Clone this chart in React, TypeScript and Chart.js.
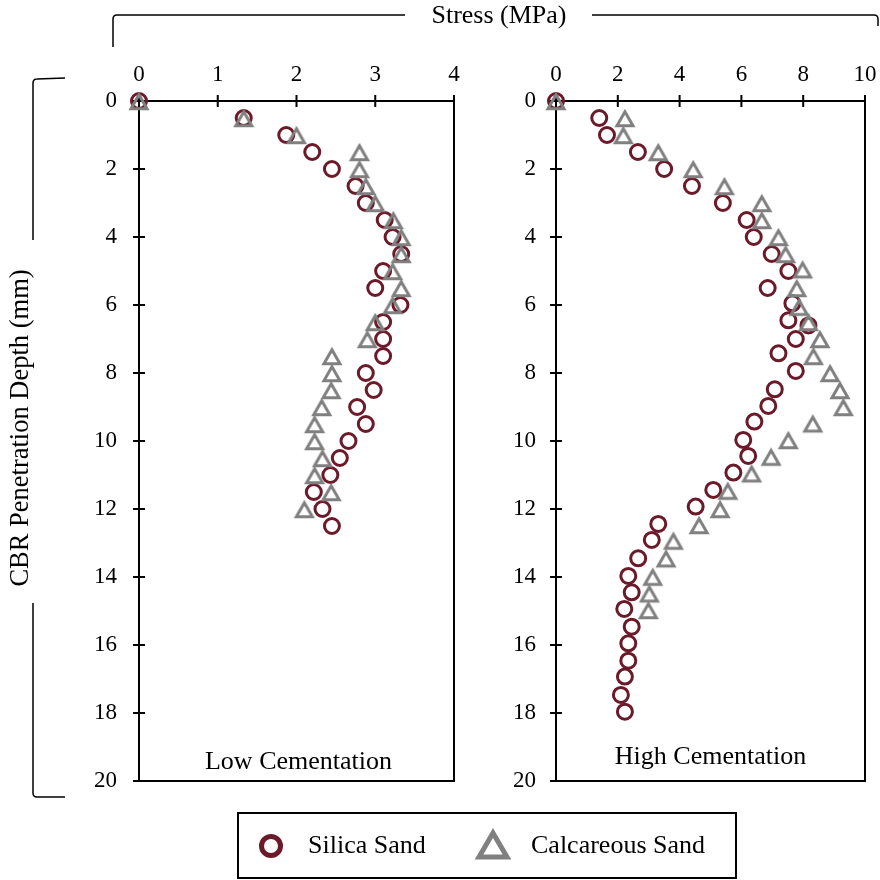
import React, { useEffect, useRef } from 'react';
import { Chart, registerables } from 'chart.js';

Chart.register(...registerables);

// ---------- data ----------
const lowSilicaDepth = [0, 0.5, 1, 1.5, 2, 2.5, 3, 3.5, 4, 4.5, 5, 5.5, 6, 6.5, 7, 7.5, 8, 8.5, 9, 9.5, 10, 10.5, 11, 11.5, 12, 12.5];
const lowSilicaStress = [0, 1.33, 1.87, 2.2, 2.45, 2.75, 2.88, 3.12, 3.22, 3.33, 3.1, 3.0, 3.32, 3.1, 3.1, 3.1, 2.88, 2.98, 2.77, 2.88, 2.66, 2.55, 2.43, 2.22, 2.33, 2.45];

const lowCalcDepth = [0, 0.5, 1, 1.5, 2, 2.5, 3, 3.5, 4, 4.5, 5, 5.5, 6, 6.5, 7, 7.5, 8, 8.5, 9, 9.5, 10, 10.5, 11, 11.5, 12];
const lowCalcStress = [0, 1.33, 2.0, 2.8, 2.8, 2.88, 3.0, 3.23, 3.33, 3.33, 3.22, 3.33, 3.22, 3.0, 2.9, 2.45, 2.45, 2.44, 2.32, 2.23, 2.23, 2.33, 2.23, 2.44, 2.1];

const highSilicaDepth = [0, 0.5, 1.0, 1.5, 2.0, 2.5, 3.0, 3.5, 4.0, 4.5, 5.0, 5.5, 5.95, 6.45, 6.6, 7.0, 7.42, 7.94, 8.48, 8.97, 9.43, 9.97, 10.44, 10.93, 11.44, 11.93, 12.44, 12.91, 13.45, 13.97, 14.45, 14.94, 15.46, 15.95, 16.46, 16.93, 17.47, 17.96];
const highSilicaStress = [0, 1.4, 1.65, 2.65, 3.5, 4.4, 5.4, 6.17, 6.4, 6.98, 7.52, 6.85, 7.65, 7.52, 8.17, 7.76, 7.2, 7.76, 7.08, 6.87, 6.42, 6.06, 6.22, 5.74, 5.09, 4.52, 3.31, 3.1, 2.66, 2.34, 2.45, 2.21, 2.45, 2.34, 2.34, 2.23, 2.1, 2.23];

const highCalcDepth = [0, 0.5, 1.0, 1.5, 2.0, 2.5, 3.0, 3.5, 4.0, 4.5, 4.95, 5.5, 6.05, 6.5, 7.0, 7.5, 8.0, 8.5, 9.0, 9.48, 9.97, 10.46, 10.95, 11.46, 12.0, 12.47, 12.93, 13.45, 13.99, 14.48, 14.97];
const highCalcStress = [0, 2.23, 2.18, 3.31, 4.44, 5.45, 6.66, 6.66, 7.2, 7.43, 7.98, 7.79, 7.87, 8.17, 8.54, 8.33, 8.87, 9.19, 9.3, 8.31, 7.52, 6.96, 6.33, 5.56, 5.31, 4.63, 3.8, 3.56, 3.13, 3.02, 2.99];

const seriesNames = ['Silica Sand', 'Calcareous Sand'];
const panelTitles = ['Low Cementation', 'High Cementation'];
const xAxisTitle = 'Stress (MPa)';
const yAxisTitle = 'CBR Penetration Depth (mm)';

const SILICA = '#6b1a2a';
const CALC = '#808080';
const FONT = "'Liberation Serif', 'Times New Roman', serif";

function pts(xs: number[], ys: number[]) {
  return xs.map((x, i) => ({ x, y: ys[i] }));
}

function makeTriangle(): HTMLCanvasElement {
  const c = document.createElement('canvas');
  c.width = 30;
  c.height = 30;
  const g = c.getContext('2d')!;
  g.strokeStyle = CALC;
  g.lineWidth = 3;
  g.lineJoin = 'miter';
  g.beginPath();
  g.moveTo(15, 15 - 6.3);
  g.lineTo(15 + 8, 15 + 7.7);
  g.lineTo(15 - 8, 15 + 7.7);
  g.closePath();
  g.stroke();
  return c;
}

const framePlugin = {
  id: 'frame',
  beforeDatasetsDraw(chart: any, _args: any, opts: any) {
    const { ctx, chartArea: a, scales } = chart;
    ctx.save();
    ctx.strokeStyle = '#000';
    ctx.lineWidth = 2;
    ctx.strokeRect(a.left, a.top, a.right - a.left, a.bottom - a.top);
    ctx.beginPath();
    scales.x.ticks.forEach((_t: any, i: number) => {
      const px = scales.x.getPixelForTick(i);
      ctx.moveTo(px, a.top - 6);
      ctx.lineTo(px, a.top + 6);
    });
    scales.y.ticks.forEach((_t: any, i: number) => {
      const py = scales.y.getPixelForTick(i);
      ctx.moveTo(a.left - 6, py);
      ctx.lineTo(a.left + 6, py);
    });
    ctx.stroke();
    ctx.fillStyle = '#000';
    ctx.font = `26px ${FONT}`;
    ctx.textAlign = 'center';
    ctx.textBaseline = 'middle';
    ctx.fillText(opts.label, (a.left + a.right) / 2 + (opts.dx || 0), a.bottom - opts.dy);
    ctx.restore();
  },
};

function Panel(props: {
  left: number; width: number; yWidth: number; rightPad: number; xMax: number; xStep: number;
  silica: { x: number; y: number }[]; calc: { x: number; y: number }[]; label: string; labelDy: number; labelDx: number; yPad: number;
}) {
  const ref = useRef<HTMLCanvasElement>(null);
  useEffect(() => {
    const tri = makeTriangle();
    const tickFont = { family: FONT, size: 23 };
    const chart = new Chart(ref.current!, {
      type: 'scatter',
      data: {
        datasets: [
          {
            label: seriesNames[0],
            data: props.silica,
            pointStyle: 'circle',
            pointRadius: 7.5,
            pointBorderWidth: 3,
            borderColor: SILICA,
            backgroundColor: 'rgba(0,0,0,0)',
            pointBackgroundColor: 'rgba(0,0,0,0)',
            pointBorderColor: SILICA,
            clip: false,
            order: 2,
          } as any,
          {
            label: seriesNames[1],
            data: props.calc,
            pointStyle: tri,
            pointRadius: 10,
            borderColor: CALC,
            backgroundColor: 'rgba(0,0,0,0)',
            clip: false,
            order: 1,
          } as any,
        ],
      },
      options: {
        responsive: false,
        animation: false,
        devicePixelRatio: 1,
        layout: { autoPadding: false, padding: { left: 0, top: 0, right: props.rightPad, bottom: 19 } },
        plugins: {
          legend: { display: false },
          tooltip: { enabled: false },
          frame: { label: props.label, dy: props.labelDy, dx: props.labelDx },
        } as any,
        scales: {
          x: {
            type: 'linear',
            position: 'top',
            min: 0,
            max: props.xMax,
            ticks: { stepSize: props.xStep, font: tickFont, color: '#000', padding: 12 },
            grid: { display: false, drawTicks: false },
            border: { display: false },
            afterFit: (s: any) => {
              s.height = 101;
              s.paddingLeft = 0;
              s.paddingRight = 0;
            },
          },
          y: {
            type: 'linear',
            reverse: true,
            min: 0,
            max: 20,
            ticks: { stepSize: 2, font: tickFont, color: '#000', padding: props.yPad },
            grid: { display: false, drawTicks: false },
            border: { display: false },
            afterFit: (s: any) => {
              s.width = props.yWidth;
              s.paddingTop = 0;
              s.paddingBottom = 0;
            },
          },
        },
      },
      plugins: [framePlugin],
    });
    return () => chart.destroy();
  }, []);
  return (
    <canvas
      ref={ref}
      width={props.width}
      height={800}
      style={{ position: 'absolute', left: props.left, top: 0, width: props.width, height: 800 }}
    />
  );
}

export default function App() {
  const text: React.CSSProperties = { fontFamily: FONT, fontSize: 26, color: '#000' };
  return (
    <div style={{ position: 'absolute', left: 0, top: 0, width: 880, height: 880, background: '#fff', overflow: 'hidden' }}>
      <Panel left={0} width={470} yWidth={139} rightPad={16} xMax={4} xStep={1}
        silica={pts(lowSilicaStress, lowSilicaDepth)} calc={pts(lowCalcStress, lowCalcDepth)}
        label={panelTitles[0]} labelDy={19} labelDx={2} yPad={22} />
      <Panel left={470} width={410} yWidth={86} rightPad={15} xMax={10} xStep={2}
        silica={pts(highSilicaStress, highSilicaDepth)} calc={pts(highCalcStress, highCalcDepth)}
        label={panelTitles[1]} labelDy={24} labelDx={0} yPad={20} />
      <svg width={880} height={880} style={{ position: 'absolute', left: 0, top: 0, pointerEvents: 'none' }}>
        <path d="M113,47 L113,19 Q113,15 117,15 L405,15 M592,15 L874,15 Q878,15 878,19 L878,26"
          fill="none" stroke="#000" strokeWidth={1.5} />
        <text x={499} y={17} textAnchor="middle" dominantBaseline="middle"
          style={{ fontFamily: FONT, fontSize: 26 }}>{xAxisTitle}</text>
        <path d="M65,78 L37,79 Q33,79 33,83 L33,240 M33,603 L33,793 Q33,797 37,797 L65,797"
          fill="none" stroke="#000" strokeWidth={1.5} />
        <text transform="translate(22,428) rotate(-90)" textAnchor="middle" dominantBaseline="middle"
          style={{ fontFamily: FONT, fontSize: 26.5 }}>{yAxisTitle}</text>
      </svg>
      <div style={{ position: 'absolute', left: 237, top: 812, width: 500, height: 67, border: '2px solid #000', boxSizing: 'border-box', background: '#fff' }}>
        <svg width={500} height={67} style={{ position: 'absolute', left: -2, top: -2 }}>
          <circle cx={34} cy={34} r={9.5} fill="none" stroke={SILICA} strokeWidth={5} />
          <path d="M256,21 L270,45 L242,45 Z" fill="none" stroke={CALC} strokeWidth={5} strokeLinejoin="miter" />
        </svg>
        <span style={{ ...text, position: 'absolute', left: 69, top: 16, lineHeight: '30px' }}>{seriesNames[0]}</span>
        <span style={{ ...text, position: 'absolute', left: 292, top: 16, lineHeight: '30px' }}>{seriesNames[1]}</span>
      </div>
    </div>
  );
}
